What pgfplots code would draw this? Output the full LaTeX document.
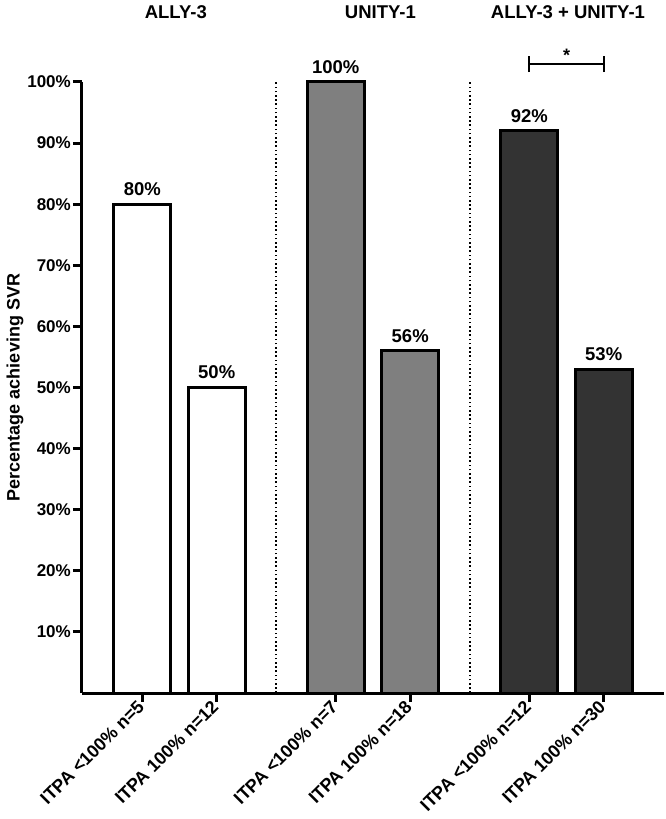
\documentclass[border=0pt]{standalone}
\usepackage{fontspec}
\setmainfont{Liberation Sans}
\usepackage{pgfplots}
\pgfplotsset{compat=1.18}
\definecolor{midgray}{HTML}{7F7F7F}
\definecolor{darkgray}{HTML}{333333}
\begin{document}
\begin{tikzpicture}[font=\bfseries]
\useasboundingbox (-82pt,-126pt) rectangle (584pt,693pt);
\begin{axis}[
  at={(0,0)}, anchor=south west,
  scale only axis, width=582pt, height=611pt,
  xmin=-0.81, xmax=7.01, ymin=0, ymax=100,
  axis lines=left,
  axis line style={line width=3pt, -},
  clip=false,
  xtick={0,1,2.6,3.6,5.2,6.2},
  xticklabels={ITPA <100\% n=5, ITPA 100\% n=12, ITPA <100\% n=7, ITPA 100\% n=18, ITPA <100\% n=12, ITPA 100\% n=30},
  ytick={10,20,...,100},
  yticklabel={\pgfmathprintnumber{\tick}\%},
  /pgf/number format/assume math mode=true,
  tick align=outside,
  major tick length=9pt,
  tick style={line width=3pt, black},
  yticklabel style={font=\fontsize{17}{20}\selectfont\bfseries, inner sep=2pt},
  xticklabel style={font=\fontsize{18}{20}\selectfont\bfseries, rotate=45, anchor=east, inner sep=2pt},
  every node near coord/.append style={font=\fontsize{18.5}{22}\selectfont\bfseries, anchor=south, inner sep=0pt, yshift=7pt},
]
\addplot[ybar, bar width=57pt, bar shift=0pt, fill=white, draw=black, line width=3pt,
  nodes near coords={\pgfmathprintnumber{\pgfplotspointmeta}\%}] coordinates {(0,80) (1,50)};
\addplot[ybar, bar width=57pt, bar shift=0pt, fill=midgray, draw=black, line width=3pt,
  nodes near coords={\pgfmathprintnumber{\pgfplotspointmeta}\%}] coordinates {(2.6,100) (3.6,56)};
\addplot[ybar, bar width=57pt, bar shift=0pt, fill=darkgray, draw=black, line width=3pt,
  nodes near coords={\pgfmathprintnumber{\pgfplotspointmeta}\%}] coordinates {(5.2,92) (6.2,53)};
\draw[line width=1.6pt, dash pattern=on 1.6pt off 2.6pt] (axis cs:1.8,0) -- (axis cs:1.8,100.3);
\draw[line width=1.6pt, dash pattern=on 1.6pt off 2.6pt] (axis cs:4.4,0) -- (axis cs:4.4,100.3);
\draw[line width=2pt] (axis cs:5.2,102.9) -- (axis cs:6.2,102.9);
\draw[line width=2pt] (axis cs:5.2,101.6) -- (axis cs:5.2,104.2);
\draw[line width=2pt] (axis cs:6.2,101.6) -- (axis cs:6.2,104.2);
\node[anchor=base, font=\fontsize{18}{20}\selectfont\bfseries] at (axis cs:5.7,103.4) {*};
\node[font=\fontsize{18.5}{22}\selectfont\bfseries] at (axis cs:0.45,111.4) {ALLY-3};
\node[font=\fontsize{18.5}{22}\selectfont\bfseries] at (axis cs:3.2,111.4) {UNITY-1};
\node[font=\fontsize{18.5}{22}\selectfont\bfseries] at (axis cs:5.72,111.4) {ALLY-3 + UNITY-1};
\node[rotate=90, font=\fontsize{18}{20}\selectfont\bfseries] at ([xshift=-67pt]axis description cs:0,0.5) {Percentage achieving SVR};
\end{axis}
\end{tikzpicture}
\end{document}
